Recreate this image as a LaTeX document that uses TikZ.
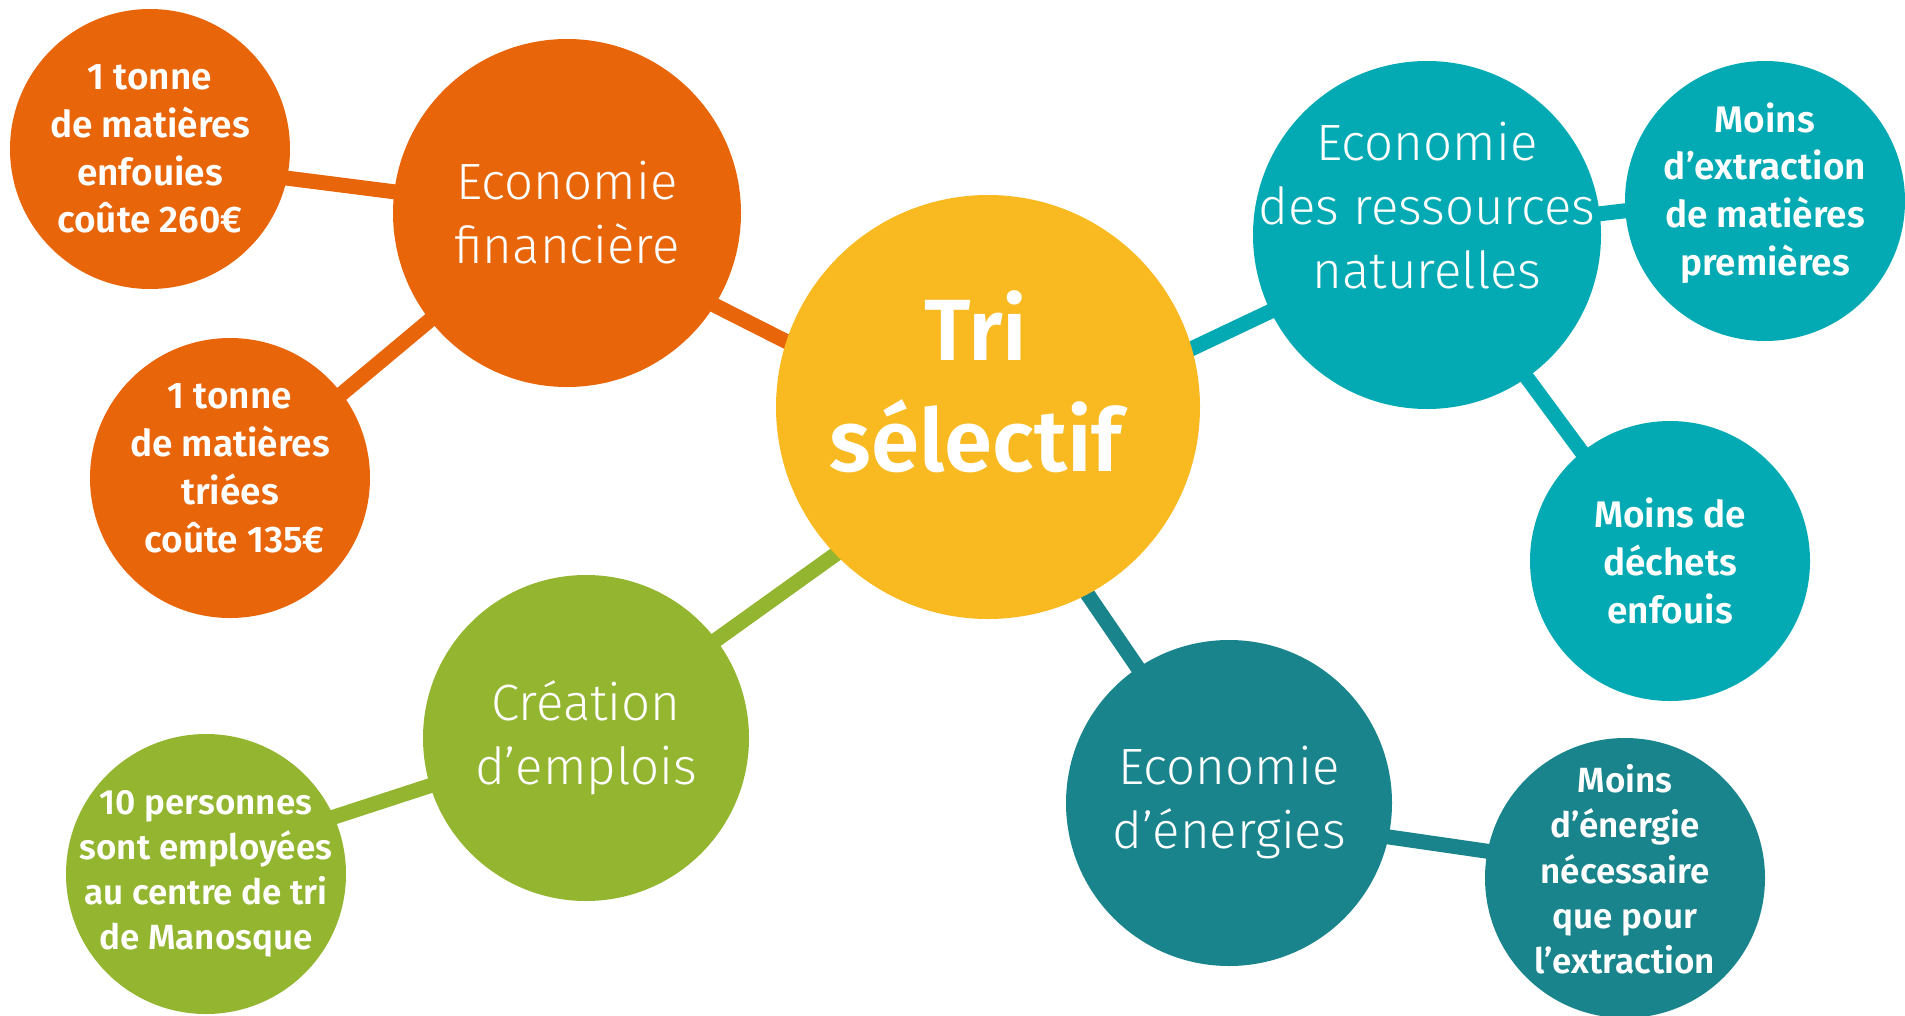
\documentclass[tikz,border=0pt]{standalone}
\usepackage{fontspec}
\setmainfont{Fira Sans}
\newfontfamily\lightfont{Fira Sans Light}
\newfontfamily\semifont{Fira Sans SemiBold}
\usetikzlibrary{backgrounds}
\definecolor{orangeeco}{HTML}{E8650A}
\definecolor{jaunetri}{HTML}{F9B920}
\definecolor{vertemploi}{HTML}{93B530}
\definecolor{turquoise}{HTML}{03AAB3}
\definecolor{petrole}{HTML}{1A848C}
% raise the text inside a bubble
\newcommand{\lift}[1]{\rule[-#1]{0pt}{#1}}

\begin{document}
\begin{tikzpicture}[x=1pt,y=-1pt,
  bulle/.style={circle,inner sep=-40pt,align=center,text=white},
  centre/.style={bulle,fill=jaunetri,minimum size=424pt,font=\semifont\fontsize{87}{111}\selectfont},
  theme/.style={bulle,minimum size=#1,font=\lightfont\fontsize{51}{64}\selectfont},
  feuille/.style={bulle,minimum size=280pt,font=\semifont\fontsize{#1}{1.29\dimexpr#1pt\relax}\selectfont},
  lien/.style={line width=15pt,shorten <=-14pt,shorten >=-14pt}]
\useasboundingbox (0,0) rectangle (1905,1015);

% the central bubble
\node[centre] (centre) at (988,407) {Tri\kern24pt\\sélectif\kern24pt\lift{52pt}};

% the four themes
\node[theme=348pt,fill=orangeeco] (financiere) at (567,213) {Economie\\financière};
\node[theme=348pt,fill=turquoise] (ressources) at (1427,235) {Economie\\des ressources\\naturelles\lift{60pt}};
\node[theme=326pt,fill=vertemploi] (emplois) at (586,738) {Création\\d’emplois\lift{8pt}};
\node[theme=326pt,fill=petrole] (energies) at (1229,803) {Economie\\d’énergies};

% the small bubbles
\node[feuille=37,fill=orangeeco] (enfouies) at (150,149) {1 tonne\\de matières\\enfouies\\coûte 260€};
\node[feuille=37,fill=orangeeco] (triees) at (230,478) {1 tonne\\de matières\\triées\\\ coûte 135€\lift{20pt}};
\node[feuille=35,fill=vertemploi] (personnes) at (206,874) {10 personnes\\sont employées\\au centre de tri\\de Manosque};
\node[feuille=37,fill=turquoise] (extraction) at (1765,201) {Moins\\d’extraction\\de matières\\premières\lift{24pt}};
\node[feuille=37,fill=turquoise] (dechets) at (1670,561) {Moins de\\déchets\\enfouis};
\node[feuille=35,fill=petrole] (energie) at (1625,878) {Moins\\d’énergie\\nécessaire\\que pour\\l’extraction\lift{18pt}};

% the links, behind the bubbles
\begin{pgfonlayer}{background}
\foreach \a/\b/\c in {financiere.-32/centre.162/orangeeco,
                      enfouies.-12/financiere.173/orangeeco,
                      financiere.218/triees.37/orangeeco,
                      centre.224/emplois.37/vertemploi,
                      emplois.197/personnes.24/vertemploi,
                      centre.16/ressources.206/turquoise,
                      ressources.7/extraction.184/turquoise,
                      ressources.-55/dechets.129/turquoise,
                      centre.-62/energies.124/petrole,
                      energies.-12/energie.169/petrole}
  \draw[lien,\c] (\a) -- (\b);
\end{pgfonlayer}
\end{tikzpicture}
\end{document}
